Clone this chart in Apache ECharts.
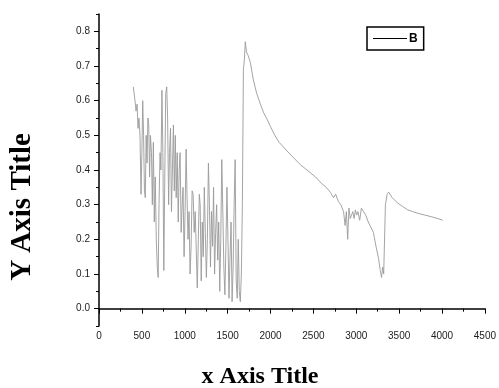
<!DOCTYPE html>
<html>
<head>
<meta charset="utf-8">
<script src="https://cdn.jsdelivr.net/npm/echarts@6/dist/echarts.min.js"></script>
<style>
html,body{margin:0;padding:0;background:#fff;}
#chart{width:499px;height:388px;}
</style>
</head>
<body>
<div id="chart"></div>
<script>
// ---- data ----
const seriesName = 'B';
const xValues = [
 400,410,420,432,444,455,466,478,490,500,510,520,530,540,550,560,570,580,590,600,
 612,622,634,645,656,668,680,690,700,712,722,734,745,756,766,778,790,800,812,822,
 834,845,856,868,878,890,900,912,924,935,946,958,970,980,992,1004,1016,1026,1038,1050,
 1062,1074,1086,1098,1110,1122,1134,1146,1158,1170,1180,1192,1204,1216,1228,1240,1252,1264,1276,1288,
 1300,1312,1324,1336,1348,1360,1372,1384,1396,1408,1420,1432,1444,1456,1468,1480,1492,1504,1516,1528,
 1540,1552,1564,1576,1588,1600,1612,1624,1636,1648,1660,1672,1684,1696,1706,1720,1740,1765,1800,1840,
 1882,1920,1963,2000,2050,2100,2174,2250,2350,2450,2525,2600,2650,2700,2735,2760,2790,2820,2852,2870,
 2885,2900,2915,2930,2945,2960,2975,2990,3005,3020,3040,3060,3085,3110,3140,3170,3200,3230,3260,3280,
 3295,3308,3320,3340,3360,3378,3420,3480,3540,3600,3658,3720,3800,3880,3950,4009
];
const yValues = [
 0.64,0.62,0.60,0.57,0.59,0.52,0.55,0.50,0.33,0.45,0.60,0.50,0.34,0.32,0.50,0.42,0.55,0.53,0.38,0.50,
 0.45,0.30,0.48,0.25,0.38,0.20,0.12,0.09,0.30,0.45,0.40,0.63,0.45,0.11,0.35,0.62,0.64,0.55,0.30,0.45,
 0.52,0.28,0.40,0.53,0.34,0.50,0.32,0.45,0.25,0.40,0.45,0.22,0.30,0.35,0.15,0.28,0.46,0.33,0.20,0.28,
 0.10,0.18,0.34,0.33,0.22,0.28,0.17,0.06,0.20,0.33,0.30,0.08,0.25,0.15,0.35,0.22,0.09,0.20,0.42,0.30,
 0.12,0.28,0.18,0.35,0.10,0.22,0.30,0.14,0.25,0.05,0.20,0.43,0.28,0.12,0.04,0.18,0.35,0.20,0.03,0.15,
 0.25,0.02,0.12,0.30,0.43,0.08,0.03,0.20,0.05,0.02,0.10,0.30,0.69,0.72,0.77,0.74,0.73,0.71,0.66,0.62,
 0.59,0.565,0.545,0.525,0.50,0.48,0.46,0.44,0.415,0.395,0.38,0.36,0.35,0.335,0.32,0.33,0.31,0.30,0.28,0.24,
 0.28,0.20,0.29,0.26,0.27,0.28,0.26,0.285,0.27,0.28,0.255,0.29,0.28,0.27,0.25,0.235,0.22,0.18,0.145,0.11,
 0.09,0.12,0.10,0.30,0.33,0.336,0.32,0.305,0.295,0.285,0.28,0.275,0.27,0.265,0.26,0.255
];
const yMajorTicks = [0, 0.1, 0.2, 0.3, 0.4, 0.5, 0.6, 0.7, 0.8];
const xMajorTicks = [0, 500, 1000, 1500, 2000, 2500, 3000, 3500, 4000, 4500];
const xTitle = 'x Axis Title';
const yTitle = 'Y Axis Title';

const points = xValues.map((x, i) => [x, yValues[i]]);

const labelFont = {fontFamily: 'Liberation Sans', fontSize: 10, color: '#222'};
const axisLine = {show: true, lineStyle: {color: '#000', width: 1.5}};

const chart = echarts.init(document.getElementById('chart'), null, {renderer: 'canvas'});
chart.setOption({
  animation: false,
  backgroundColor: '#fff',
  grid: {left: 99, right: 14, top: 14, bottom: 62, containLabel: false},
  legend: {
    left: 367, top: 27,
    data: [seriesName],
    orient: 'horizontal',
    icon: 'rect',
    itemWidth: 34, itemHeight: 1, itemGap: 0,
    padding: [5, 6, 5, 6],
    borderColor: '#000', borderWidth: 1.5, borderRadius: 0,
    itemStyle: {color: '#000', borderWidth: 0},
    textStyle: {fontFamily: 'Liberation Sans', fontSize: 12, fontWeight: 'bold', color: '#000', lineHeight: 13, padding: [0,0,0,-3]}
  },
  xAxis: [{
    type: 'value', min: 0, max: 4500, interval: 250,
    axisLine: axisLine,
    axisTick: {show: true, length: 3, lineStyle: {color: '#000', width: 1}},
    axisLabel: {
      ...labelFont, margin: 5,
      formatter: v => (v % 500 === 0 ? String(v) : '')
    },
    splitLine: {show: false}
  }, {
    type: 'value', min: 0, max: 4500, position: 'bottom',
    axisLine: {show: false},
    axisTick: {show: true, length: 5, customValues: xMajorTicks, lineStyle: {color: '#000', width: 1}},
    axisLabel: {show: false},
    splitLine: {show: false}
  }],
  yAxis: [{
    type: 'value', min: -0.05, max: 0.85, interval: 0.05,
    axisLine: axisLine,
    axisTick: {show: true, length: 3, lineStyle: {color: '#000', width: 1}},
    axisLabel: {
      ...labelFont, margin: 9,
      formatter: v => {
        const t = Math.round(v * 100);
        return (t % 10 === 0) ? (t / 100).toFixed(1) : '';
      }
    },
    splitLine: {show: false}
  }, {
    type: 'value', min: -0.05, max: 0.85, position: 'left',
    axisLine: {show: false},
    axisTick: {show: true, length: 5, customValues: yMajorTicks, lineStyle: {color: '#000', width: 1}},
    axisLabel: {show: false},
    splitLine: {show: false}
  }],
  series: [{
    name: seriesName,
    type: 'line',
    xAxisIndex: 0, yAxisIndex: 0,
    data: points,
    symbol: 'none',
    legendIcon: 'rect',
    lineStyle: {color: '#9a9a9a', width: 0.9},
    itemStyle: {color: '#9a9a9a'}
  }],
  graphic: [{
    type: 'text', x: 260, y: 377,
    style: {text: xTitle, font: 'bold 24px "Liberation Serif"', fill: '#000', textAlign: 'center', textVerticalAlign: 'middle'}
  }, {
    type: 'text', x: 23, y: 207, rotation: Math.PI / 2,
    style: {text: yTitle, font: 'bold 29px "Liberation Serif"', fill: '#000', textAlign: 'center', textVerticalAlign: 'middle'}
  }]
});
</script>
</body>
</html>
